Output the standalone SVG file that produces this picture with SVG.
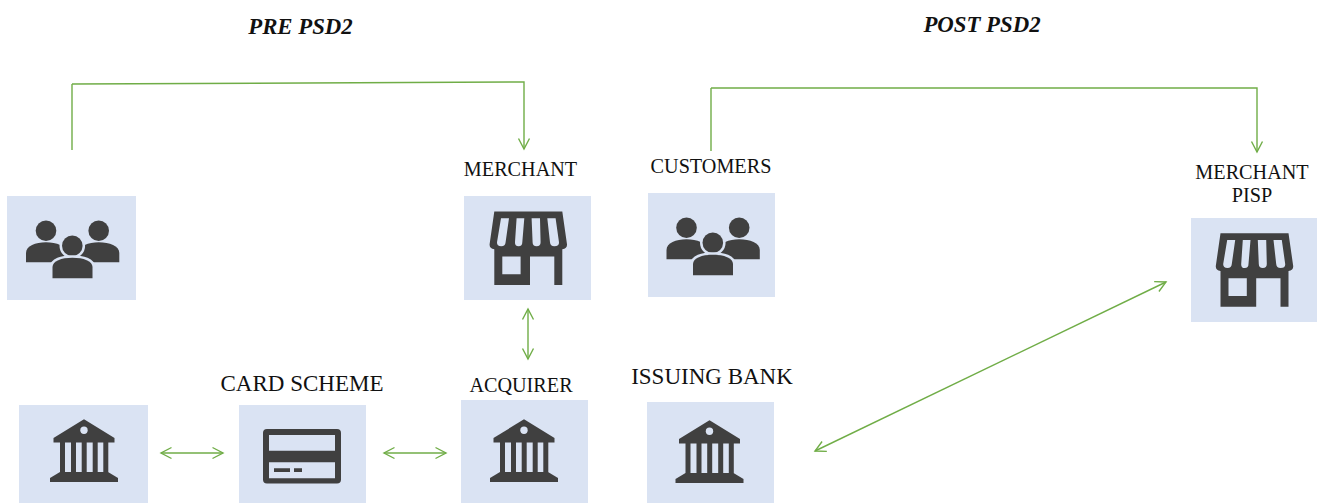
<svg xmlns="http://www.w3.org/2000/svg" width="1317" height="503" viewBox="0 0 1317 503">
<style>
.box{fill:#dae3f3}
.ic{fill:#404040}
.halo{fill:#404040;stroke:#dae3f3;stroke-width:5;paint-order:stroke}
.ln{fill:none;stroke:#70ad47;stroke-width:1.4}
.ar{fill:none;stroke:#70ad47;stroke-width:1.4;marker-end:url(#v)}
.dar{fill:none;stroke:#70ad47;stroke-width:1.4;marker-start:url(#vs);marker-end:url(#v)}
text{font-family:"Liberation Serif","Times New Roman",serif;fill:#111;text-anchor:middle}
.h{font-size:22.8px;font-weight:bold;font-style:italic}
.s{font-size:20.2px}
.l{font-size:23px}
</style>
<defs>
<marker id="v" markerUnits="userSpaceOnUse" markerWidth="14" markerHeight="14" refX="11.5" refY="6" orient="auto" overflow="visible"><path d="M1 0.5L11.5 6L1 11.5" fill="none" stroke="#70ad47" stroke-width="1.4"/></marker>
<marker id="vs" markerUnits="userSpaceOnUse" markerWidth="14" markerHeight="14" refX="0.5" refY="6" orient="auto" overflow="visible"><path d="M11 0.5L0.5 6L11 11.5" fill="none" stroke="#70ad47" stroke-width="1.4"/></marker>
<g id="i-people">
<circle class="ic" cx="-25.5" cy="-17.3" r="10.300"/><circle class="ic" cx="27.200" cy="-17.3" r="10.300"/>
<path class="ic" d="M-45.500 14.300V5C-45.500 -2 -36 -5.700 -25.500 -5.700C-15 -5.700 -5 -2 -5 5V14.300Z"/>
<path class="ic" d="M47.800 14.300V5C47.800 -2 38 -5.700 27.200 -5.700C17 -5.700 7 -2 7 5V14.300Z"/>
<circle class="halo" cx="0.800" cy="-2.300" r="10.300"/>
<path class="halo" d="M-19 30.300V19C-19 13 -10 9.700 0.800 9.700C12 9.700 21 13 21 19V30.300Z"/>
</g>
<g id="i-store">
<path class="ic" fill-rule="evenodd" d="M-34 -36.700H34L38.700 -4Q39 0 34 1V36.700H26V8.300H1.700V36.700H-34V1Q-39 0 -38.700 -4ZM-26 8.300V26H-7.700V8.300Z"/>
<path class="box" d="M-27.300 -30H-19.300L-22.700 -6Q-23 -2 -27 -2Q-31.500 -2 -31.300 -6Z"/>
<path class="box" d="M-11.700 -30H-4L-6 -6Q-6 -2 -9.700 -2Q-13.500 -2 -13.300 -6Z"/>
<path class="box" d="M3.300 -30H11.700L12.300 -6Q12.300 -2 8.300 -2Q4.300 -2 4.300 -6Z"/>
<path class="box" d="M19 -30H27.300L30.700 -6Q31 -2 26 -2Q22 -2 21.700 -6Z"/>
</g>
<g id="i-bank">
<path class="ic" d="M0 -31.700L30.500 -13V-8.500H-30.500V-13Z"/>
<circle class="box" cx="0" cy="-20.700" r="3.700"/>
<path class="ic" d="M-24 -9H-19V21.500H-24ZM-13 -9H-8V21.500H-13ZM-2.300 -9H2.700V21.500H-2.300ZM8.700 -9H13.700V21.500H8.700ZM19.300 -9H24.300V21.500H19.300Z"/>
<path class="ic" d="M-24 21H24L34 27V31H-34V27Z"/>
</g>
<g id="i-card">
<path class="ic" fill-rule="evenodd" d="M-35 -27.500H35Q39 -27.500 39 -23.500V23Q39 27 35 27H-35Q-39 27 -39 23V-23.500Q-39 -27.500 -35 -27.500ZM-33 -21.500V-5.800H33V-21.500ZM-33 5.800V21.800H33V5.800Z"/>
<path class="ic" d="M-28 11.800H-12V15.500H-28ZM-8 11.800H0V15.500H-8Z"/>
</g>
</defs>
<g id="connectors">
<path class="ln" d="M72 150V84"/>
<path class="ar" d="M72 84L524 82V149"/>
<path class="ln" d="M711 151V88"/>
<path class="ar" d="M711 88H1257V152"/>
<path class="dar" d="M528 359V309"/>
<path class="dar" d="M223 453H161"/>
<path class="dar" d="M446 453H384"/>
<path class="dar" d="M815 451L1166 282"/>
</g>
<text class="h" x="300.500" y="34">PRE PSD2</text>
<text class="h" x="982" y="32">POST PSD2</text>
<g id="node-customers-pre"><rect class="box" x="7" y="196" width="129" height="104"/><use href="#i-people" x="71.500" y="248"/></g>
<g id="node-merchant"><text class="s" x="520.500" y="176">MERCHANT</text><rect class="box" x="464" y="196" width="127" height="104"/><use href="#i-store" x="528.300" y="248.300"/></g>
<g id="node-customers"><text class="s" x="711" y="173">CUSTOMERS</text><rect class="box" x="648" y="193" width="127" height="104"/><use href="#i-people" x="712" y="245"/></g>
<g id="node-merchant-pisp"><text class="s" x="1252" y="179">MERCHANT</text><text class="s" x="1252" y="202">PISP</text><rect class="box" x="1191" y="218" width="126" height="104"/><use href="#i-store" x="1254.500" y="270"/></g>
<g id="node-bank-pre"><rect class="box" x="19" y="405" width="129" height="98"/><use href="#i-bank" x="84" y="451"/></g>
<g id="node-card-scheme"><text class="l" x="302" y="391">CARD SCHEME</text><rect class="box" x="239" y="405" width="127" height="98"/><use href="#i-card" x="302" y="456.500"/></g>
<g id="node-acquirer"><text class="s" x="521" y="392">ACQUIRER</text><rect class="box" x="461" y="400" width="127" height="103"/><use href="#i-bank" x="524" y="451"/></g>
<g id="node-issuing-bank"><text class="l" x="712" y="384">ISSUING BANK</text><rect class="box" x="647" y="402" width="127" height="101"/><use href="#i-bank" x="709.500" y="452"/></g>
</svg>
